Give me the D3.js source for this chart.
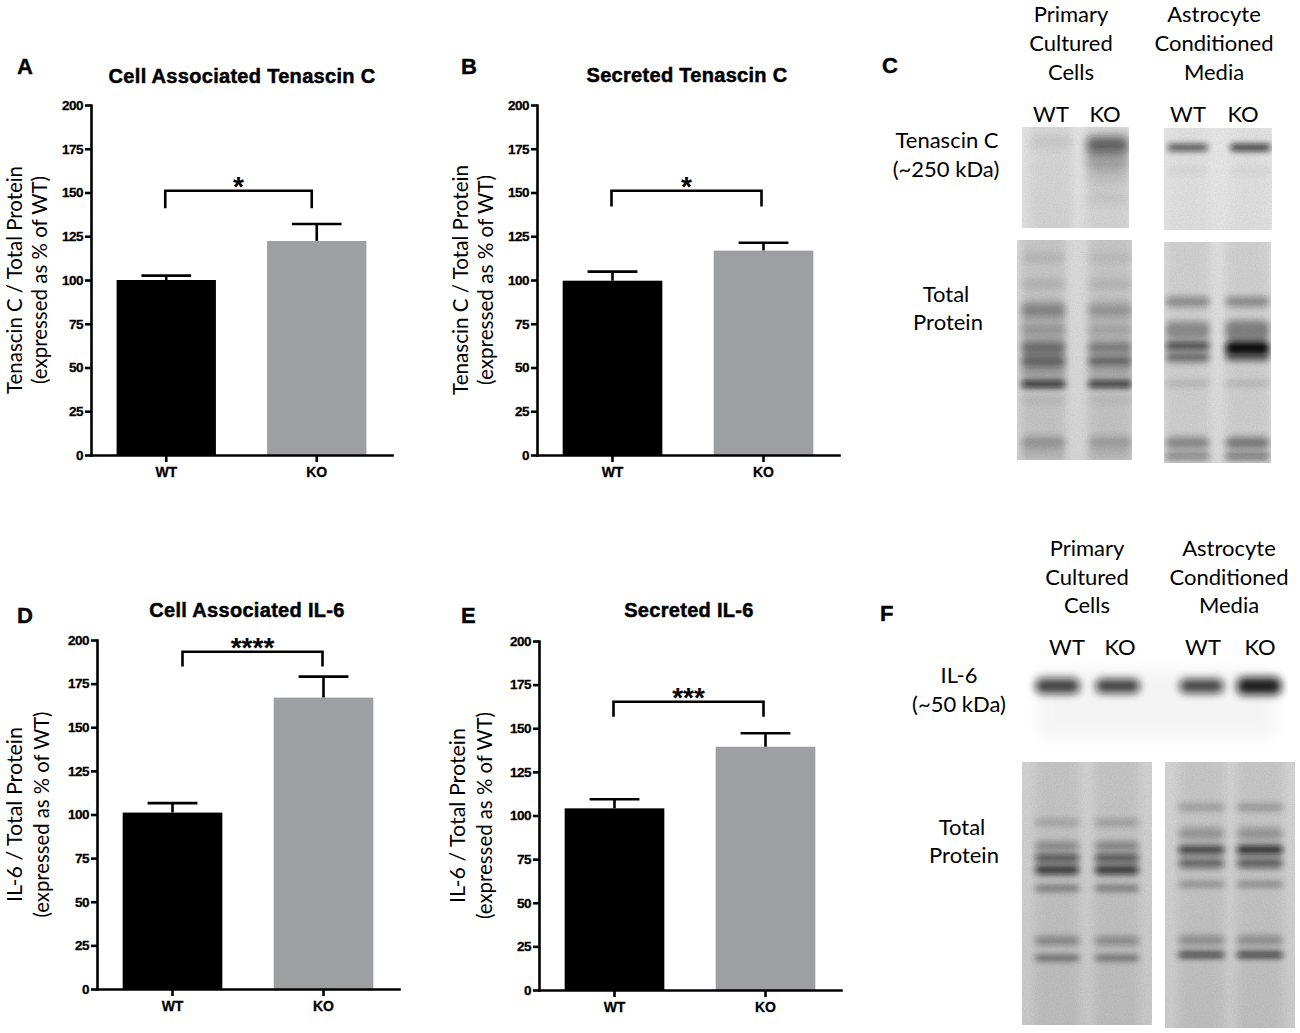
<!DOCTYPE html>
<html>
<head>
<meta charset="utf-8">
<script src="https://cdn.jsdelivr.net/npm/d3@7"></script>
<style>
  body { margin: 0; background: #fff; }
  svg { display: block; }
</style>
</head>
<body>
<div id="chart"></div>
<script>
const groups = ['WT', 'KO']
const yTicks = [0, 25, 50, 75, 100, 125, 150, 175, 200]
const barColors = ['#000000', '#9e9fa3']

// A: cell associated tenascin C
const tnCellMean = [100, 122.3]
const tnCellSem = [2.5, 9.7]
const tnCellSig = [151, 141]
// B: secreted tenascin C
const tnSecMean = [99.6, 116.8]
const tnSecSem = [5.2, 4.5]
const tnSecSig = [151, 142]
// D: cell associated IL-6
const il6CellMean = [101.1, 167]
const il6CellSem = [5.4, 12]
const il6CellSig = [193.3, 184.8]
// E: secreted IL-6
const il6SecMean = [104.1, 139.4]
const il6SecSem = [5.2, 7.7]
const il6SecSig = [165.2, 156.6]

// blot bands: [lane, relative migration 0..1, density, band thickness]
const tnCellsBands = [[0, 0.15, 0.08, 10], [1, 0.17, 0.55, 16], [1, 0.32, 0.25, 22], [1, 0.5, 0.1, 16], [1, 0.7, 0.06, 14]]
const tnMediaBands = [[0, 0.19, 0.8, 6], [1, 0.19, 0.95, 6], [0, 0.42, 0.04, 8], [1, 0.42, 0.04, 8]]
const tnCellsTotal = [
  [0, 0.45, 0.12, 80], [1, 0.45, 0.08, 80],
  [0, 0.08, 0.08, 10], [1, 0.08, 0.05, 10], [0, 0.2, 0.1, 10], [1, 0.2, 0.08, 10],
  [0, 0.32, 0.25, 12], [1, 0.32, 0.2, 10], [0, 0.41, 0.15, 8], [1, 0.41, 0.1, 8],
  [0, 0.49, 0.4, 12], [1, 0.49, 0.35, 10], [0, 0.55, 0.45, 12], [1, 0.55, 0.5, 9],
  [0, 0.6, 0.15, 6], [1, 0.6, 0.12, 6], [0, 0.655, 1, 6], [1, 0.655, 0.95, 6],
  [0, 0.73, 0.06, 8], [1, 0.73, 0.05, 8], [0, 0.92, 0.25, 12], [1, 0.92, 0.2, 12],
  [0, 0.97, 0.12, 6], [1, 0.97, 0.1, 6]
]
const tnMediaTotal = [
  [0, 0.27, 0.35, 10], [1, 0.27, 0.35, 10], [0, 0.4, 0.35, 18], [1, 0.4, 0.4, 20],
  [0, 0.47, 0.9, 6], [1, 0.48, 1, 14], [0, 0.52, 0.5, 10], [1, 0.52, 0.55, 8],
  [0, 0.64, 0.2, 4], [1, 0.64, 0.2, 4], [0, 0.91, 0.35, 12], [1, 0.91, 0.42, 12],
  [0, 0.97, 0.5, 5], [1, 0.97, 0.6, 5]
]
const il6Bands = [[0, 0.31, 0.8, 15], [1, 0.31, 0.8, 14], [2, 0.31, 0.78, 14], [3, 0.31, 0.95, 17]]
const il6CellsTotal = [
  [0, 0.23, 0.22, 6], [1, 0.23, 0.25, 6], [0, 0.32, 0.32, 9], [1, 0.32, 0.35, 9],
  [0, 0.365, 0.8, 6], [1, 0.365, 0.8, 6], [0, 0.41, 0.8, 9], [1, 0.41, 0.8, 9],
  [0, 0.48, 0.6, 4], [1, 0.48, 0.6, 4], [0, 0.68, 0.35, 8], [1, 0.68, 0.32, 8],
  [0, 0.745, 0.7, 4], [1, 0.745, 0.65, 4]
]
const il6MediaTotal = [
  [0, 0.17, 0.3, 5], [1, 0.17, 0.35, 5], [0, 0.27, 0.25, 12], [1, 0.27, 0.25, 12],
  [0, 0.33, 0.85, 7], [1, 0.33, 0.9, 8], [0, 0.38, 0.5, 10], [1, 0.38, 0.55, 10],
  [0, 0.46, 0.4, 4], [1, 0.46, 0.45, 4], [0, 0.67, 0.3, 9], [1, 0.67, 0.3, 9],
  [0, 0.725, 0.9, 5], [1, 0.725, 0.95, 5]
]

const W = 1300
const H = 1033
const svg = d3.select('#chart').append('svg').attr('width', W).attr('height', H)
svg.append('rect').attr('width', W).attr('height', H).attr('fill', '#fff')

const defs = svg.append('defs')
;[['blur', 3], ['blurSoft', 4.5], ['blurWide', 7]].forEach(([id, s]) => {
  defs.append('filter').attr('id', id)
    .attr('x', '-50%').attr('y', '-300%').attr('width', '200%').attr('height', '700%')
    .append('feGaussianBlur').attr('stdDeviation', s)
})
// fine grain for the scanned blot look
const grain = defs.append('filter').attr('id', 'grain')
grain.append('feTurbulence').attr('type', 'fractalNoise').attr('baseFrequency', 0.9).attr('numOctaves', 2).attr('seed', 4)
grain.append('feColorMatrix').attr('values', '0 0 0 0 0  0 0 0 0 0  0 0 0 0 0  0 0 0 0.10 0')

const sans = 'Liberation Sans, Arial, sans-serif'
const gill = 'Lato, Open Sans, sans-serif'

// panel letters
const letters = [['A', 17, 74], ['B', 461, 74], ['C', 882, 73], ['D', 17, 623], ['E', 461, 623], ['F', 880, 621]]
svg.selectAll('text.letter').data(letters).join('text')
  .attr('class', 'letter')
  .attr('x', d => d[1]).attr('y', d => d[2])
  .attr('font-family', sans).attr('font-weight', 'bold').attr('font-size', 22)
  .attr('stroke', '#000').attr('stroke-width', 0.4)
  .text(d => d[0])

function barPanel(p) {
  const g = svg.append('g')
  const y = d3.scaleLinear().domain([0, 200]).range([p.bottom, p.top])
  const x = d3.scaleBand().domain(groups).range([p.left, p.right])
    .paddingInner(0.34).paddingOuter(0.17)
  const cx = d => x(d) + x.bandwidth() / 2

  g.append('text')
    .attr('x', p.titleX).attr('y', p.titleY)
    .attr('text-anchor', 'middle')
    .attr('font-family', sans).attr('font-weight', 'bold').attr('font-size', 20)
    .attr('letter-spacing', 0.3)
    .attr('stroke', '#000').attr('stroke-width', 0.5)
    .text(p.title)

  g.selectAll('rect.bar').data(groups).join('rect')
    .attr('class', 'bar')
    .attr('x', d => x(d)).attr('width', x.bandwidth())
    .attr('y', (d, i) => y(p.mean[i]))
    .attr('height', (d, i) => y(0) - y(p.mean[i]))
    .attr('fill', (d, i) => barColors[i])

  // upper error bars
  const capW = x.bandwidth() / 2
  g.selectAll('path.err').data(groups).join('path')
    .attr('class', 'err')
    .attr('d', (d, i) => {
      const t = y(p.mean[i] + p.sem[i])
      return `M${cx(d)},${y(p.mean[i])}V${t}M${cx(d) - capW / 2},${t}H${cx(d) + capW / 2}`
    })
    .attr('fill', 'none').attr('stroke', '#000').attr('stroke-width', 2.6)

  // significance bracket
  const x1 = cx(groups[0]) + p.legShift[0]
  const x2 = cx(groups[1]) + p.legShift[1]
  g.append('path')
    .attr('d', `M${x1},${y(p.sig[1])}V${y(p.sig[0])}H${x2}V${y(p.sig[1])}`)
    .attr('fill', 'none').attr('stroke', '#000').attr('stroke-width', 2.6)
  g.append('text')
    .attr('x', (x1 + x2) / 2).attr('y', y(p.sig[0]) + 5)
    .attr('text-anchor', 'middle')
    .attr('font-family', sans).attr('font-weight', 'bold').attr('font-size', 28)
    .text(p.stars)

  const yAxis = g.append('g')
    .attr('transform', `translate(${p.left},0)`)
    .call(d3.axisLeft(y).tickValues(yTicks).tickSize(6).tickSizeOuter(0).tickPadding(2))
  const xAxis = g.append('g')
    .attr('transform', `translate(0,${p.bottom})`)
    .call(d3.axisBottom(x).tickSize(7).tickSizeOuter(0).tickPadding(5))
  ;[yAxis, xAxis].forEach(a => {
    a.select('.domain').attr('stroke-width', 2.6).attr('stroke-linecap', 'square')
    a.selectAll('.tick line').attr('stroke-width', 2.6)
    a.selectAll('.tick text')
      .attr('font-family', sans).attr('font-weight', 'bold').attr('fill', '#000')
      .attr('stroke', '#000').attr('stroke-width', 0.3)
  })
  yAxis.selectAll('.tick text').attr('font-size', 13.5).attr('letter-spacing', -0.5)
  xAxis.selectAll('.tick text').attr('font-size', 14)

  // two-line y label
  const cy = (p.top + p.bottom) / 2
  p.ylabel.forEach((line, i) => {
    g.append('text')
      .attr('transform', `translate(${p.labelX[i]},${cy}) rotate(-90)`)
      .attr('text-anchor', 'middle')
      .attr('font-family', gill).attr('font-size', 21)
      .attr('textLength', p.labelLen[i]).attr('lengthAdjust', 'spacingAndGlyphs')
      .text(line)
  })
}

barPanel({
  title: 'Cell Associated Tenascin C', titleX: 242, titleY: 83,
  left: 91, right: 392, top: 105, bottom: 455,
  mean: tnCellMean, sem: tnCellSem, sig: tnCellSig, stars: '*', legShift: [-1, -5],
  ylabel: ['Tenascin C / Total Protein', '(expressed as % of WT)'],
  labelX: [22, 47], labelLen: [228, 208]
})
barPanel({
  title: 'Secreted Tenascin C', titleX: 687, titleY: 82,
  left: 537, right: 839, top: 105, bottom: 455,
  mean: tnSecMean, sem: tnSecSem, sig: tnSecSig, stars: '*', legShift: [-1, -2],
  ylabel: ['Tenascin C / Total Protein', '(expressed as % of WT)'],
  labelX: [468, 493], labelLen: [230, 210]
})
barPanel({
  title: 'Cell Associated IL-6', titleX: 247, titleY: 617,
  left: 97, right: 399, top: 640, bottom: 989,
  mean: il6CellMean, sem: il6CellSem, sig: il6CellSig, stars: '****', legShift: [10, -1],
  ylabel: ['IL-6 / Total Protein', '(expressed as % of WT)'],
  labelX: [22, 49], labelLen: [175, 206]
})
barPanel({
  title: 'Secreted IL-6', titleX: 689, titleY: 617,
  left: 539, right: 841, top: 641, bottom: 990,
  mean: il6SecMean, sem: il6SecSem, sig: il6SecSig, stars: '***', legShift: [-1, -2],
  ylabel: ['IL-6 / Total Protein', '(expressed as % of WT)'],
  labelX: [465, 492], labelLen: [175, 207]
})

// ---- western blots ----
let clipId = 0
function blot(b) {
  const g = svg.append('g')
  const id = 'clip' + clipId++
  defs.append('clipPath').attr('id', id)
    .append('rect').attr('x', b.x).attr('y', b.y).attr('width', b.w).attr('height', b.h)
  const body = g.append('g').attr('clip-path', `url(#${id})`)
  const yPos = d3.scaleLinear().domain([0, 1]).range([b.y, b.y + b.h])
  const xPos = d3.scaleLinear().domain([0, 1]).range([b.x, b.x + b.w])

  if (b.halo) {
    body.append('rect')
      .attr('x', b.x + 12).attr('y', b.y + 10).attr('width', b.w - 24).attr('height', b.h - 20)
      .attr('fill', '#000').attr('opacity', 0.04).attr('filter', 'url(#blurWide)')
  } else {
    const gid = id + 'g'
    const lg = defs.append('linearGradient').attr('id', gid).attr('x1', 0).attr('x2', 0).attr('y1', 0).attr('y2', 1)
    lg.append('stop').attr('offset', 0).attr('stop-color', b.bg[0])
    lg.append('stop').attr('offset', 1).attr('stop-color', b.bg[1])
    body.append('rect')
      .attr('x', b.x).attr('y', b.y).attr('width', b.w).attr('height', b.h)
      .attr('fill', `url(#${gid})`)
    // lane streaks
    body.selectAll('rect.lane').data(b.lanes).join('rect')
      .attr('x', d => xPos(d) - b.laneW / 2).attr('y', b.y - 10)
      .attr('width', b.laneW).attr('height', b.h + 20)
      .attr('fill', '#000').attr('opacity', b.streak)
      .attr('filter', 'url(#blurSoft)')
  }

  body.selectAll('rect.band').data(b.bands).join('rect')
    .attr('x', d => xPos(b.lanes[d[0]]) - b.laneW / 2)
    .attr('width', b.laneW)
    .attr('y', d => yPos(d[1]) - d[3] / 2)
    .attr('height', d => d[3])
    .attr('rx', d => Math.min(d[3] / 2, 6))
    .attr('fill', '#111').attr('opacity', d => d[2])
    .attr('filter', `url(#${b.filter || 'blur'})`)

  if (!b.halo) {
    body.append('rect')
      .attr('x', b.x).attr('y', b.y).attr('width', b.w).attr('height', b.h)
      .attr('filter', 'url(#grain)')
  }
}

blot({ x: 1022, y: 127, w: 107, h: 101, bg: ['#ebebeb', '#e6e6e6'], lanes: [0.27, 0.8], laneW: 42, streak: 0.05, bands: tnCellsBands, filter: 'blurSoft' })
blot({ x: 1164, y: 128, w: 108, h: 102, bg: ['#eeeeee', '#ebebeb'], lanes: [0.22, 0.8], laneW: 40, streak: 0.02, bands: tnMediaBands })
blot({ x: 1017, y: 240, w: 115, h: 220, bg: ['#e2e2e2', '#dddddd'], lanes: [0.23, 0.81], laneW: 44, streak: 0.09, bands: tnCellsTotal })
blot({ x: 1164, y: 242, w: 107, h: 221, bg: ['#e6e6e6', '#e2e2e2'], lanes: [0.22, 0.78], laneW: 44, streak: 0.06, bands: tnMediaTotal })
blot({ x: 1026, y: 658, w: 262, h: 90, halo: true, lanes: [0.12, 0.35, 0.67, 0.89], laneW: 44, bands: il6Bands, filter: 'blurSoft' })
blot({ x: 1022, y: 762, w: 130, h: 263, bg: ['#d9d9d9', '#cfcfcf'], lanes: [0.27, 0.73], laneW: 44, streak: 0.06, bands: il6CellsTotal })
blot({ x: 1165, y: 762, w: 130, h: 266, bg: ['#dbdbdb', '#d2d2d2'], lanes: [0.28, 0.73], laneW: 46, streak: 0.06, bands: il6MediaTotal })

// blot labels
const blotText = [
  ['Primary', 1071, 22], ['Cultured', 1071, 51], ['Cells', 1071, 80],
  ['Astrocyte', 1214, 22], ['Conditioned', 1214, 51], ['Media', 1214, 80],
  ['WT', 1051, 122], ['KO', 1105, 122], ['WT', 1188, 122], ['KO', 1243, 122],
  ['Tenascin C', 947, 148], ['(~250 kDa)', 946, 177],
  ['Total', 946, 302], ['Protein', 948, 330],
  ['Primary', 1087, 556], ['Cultured', 1087, 585], ['Cells', 1087, 613],
  ['Astrocyte', 1229, 556], ['Conditioned', 1229, 585], ['Media', 1229, 613],
  ['WT', 1067, 655], ['KO', 1120, 655], ['WT', 1203, 655], ['KO', 1260, 655],
  ['IL-6', 959, 683], ['(~50 kDa)', 959, 712],
  ['Total', 962, 835], ['Protein', 964, 863]
]
svg.selectAll('text.blot').data(blotText).join('text')
  .attr('class', 'blot')
  .attr('x', d => d[1]).attr('y', d => d[2])
  .attr('text-anchor', 'middle')
  .attr('font-family', gill).attr('font-size', 22)
  .text(d => d[0])
</script>
</body>
</html>
